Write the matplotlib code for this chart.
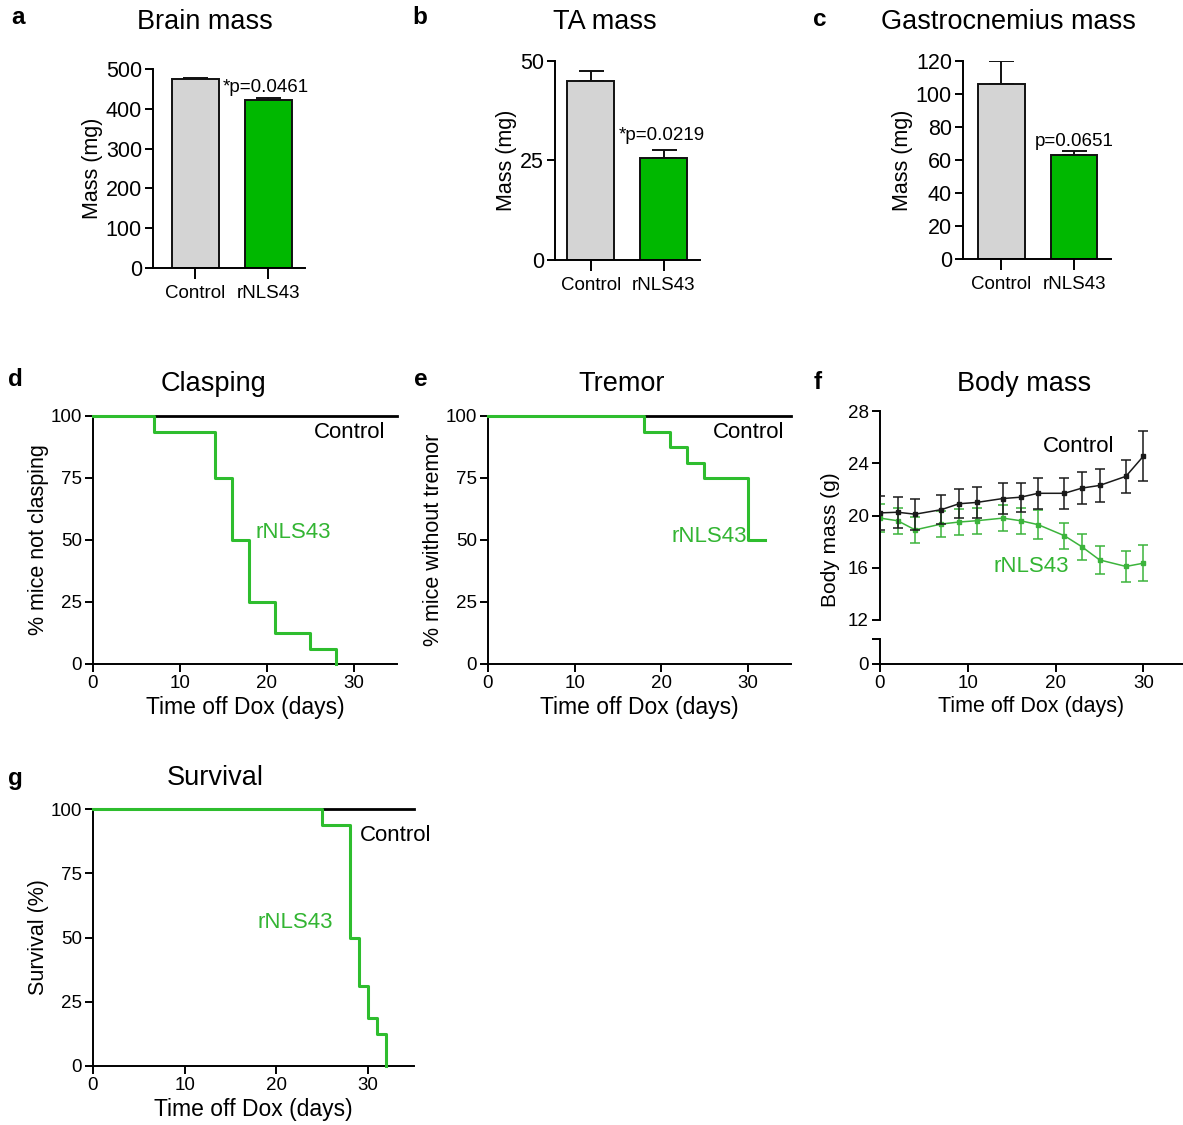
import matplotlib
matplotlib.use('Agg')
from matplotlib import pyplot as plt

plt.rcParams['font.family'] = ['Liberation Sans', 'DejaVu Sans']

W, H = 1183, 1125

GREEN_BAR = '#00b800'
GREEN_LINE = '#2ebd2e'
GREEN_TEXT = '#33b533'
GREY_BAR = '#d4d4d4'

# bar panels
groups = ['Control', 'rNLS43']
brain_mean = [475, 422]
brain_err = [3, 6]
ta_mean = [45.1, 25.6]
ta_err = [2.5, 2.0]
gastro_mean = [106, 63.2]
gastro_err = [13.8, 2.4]

# survival-type curves (days, % remaining)
clasp_days = [0, 7, 14, 16, 18, 21, 25, 28]
clasp_pct = [100, 93.75, 75, 50, 25, 12.5, 6.25, 0]
tremor_days = [0, 18, 21, 23, 25, 30, 32]
tremor_pct = [100, 93.75, 87.5, 81.25, 75, 50, 50]
surv_days = [0, 25, 28, 29, 30, 31, 32]
surv_pct = [100, 93.75, 50, 31.25, 18.75, 12.5, 0]
ctrl_days = [0, 35]
ctrl_pct = [100, 100]

# body mass
bm_days = [0, 2, 4, 7, 9, 11, 14, 16, 18, 21, 23, 25, 28, 30]
bm_ctrl = [20.2, 20.25, 20.1, 20.45, 20.9, 21.0, 21.3, 21.4, 21.7, 21.7, 22.1, 22.3, 23.0, 24.55]
bm_ctrl_err = [1.3, 1.2, 1.2, 1.1, 1.1, 1.2, 1.2, 1.1, 1.2, 1.2, 1.2, 1.25, 1.25, 1.9]
bm_rnls = [19.8, 19.6, 18.9, 19.35, 19.5, 19.6, 19.8, 19.6, 19.3, 18.45, 17.6, 16.6, 16.1, 16.35]
bm_rnls_err = [1.1, 1.0, 1.0, 1.0, 1.0, 1.0, 1.0, 1.0, 1.1, 1.0, 1.0, 1.1, 1.2, 1.4]


def px_axes(fig, x0, y_top, x1, y_bot):
    return fig.add_axes([x0 / W, 1 - y_bot / H, (x1 - x0) / W, (y_bot - y_top) / H])


def style(ax, tick_size=13):
    for s in ['top', 'right']:
        ax.spines[s].set_visible(False)
    for s in ['left', 'bottom']:
        ax.spines[s].set_linewidth(1.4)
    ax.tick_params(width=1.4, length=6, labelsize=tick_size, pad=2)


def fig_text(fig, x, y, s, **kw):
    fig.text(x / W, 1 - y / H, s, ha='center', va='center', **kw)


def bar_panel(fig, box, means, errs, xlim, yticks, ptext, pxy):
    ax = px_axes(fig, *box)
    ax.bar([0, 1], means, width=0.64, color=[GREY_BAR, GREEN_BAR],
           edgecolor='#111111', linewidth=1.4, zorder=2)
    ax.errorbar([0, 1], means, yerr=[[0, 0], errs], fmt='none', ecolor='#111111',
                elinewidth=1.4, capsize=9, capthick=1.4, zorder=1)
    ax.set_xlim(*xlim)
    ax.set_ylim(yticks[0], yticks[-1])
    ax.set_yticks(yticks)
    ax.set_xticks([0, 1])
    ax.set_xticklabels(groups)
    ax.set_ylabel('Mass (mg)', fontsize=15.5, labelpad=2)
    style(ax, 15.5)
    ax.tick_params(axis='x', labelsize=13.5, length=8, pad=4)
    fig_text(fig, pxy[0], pxy[1], ptext, fontsize=13.5)
    return ax


def step_panel(fig, box, days, pct, ylabel, ctrl_xy, rnls_xy, rnls_ha='center'):
    ax = px_axes(fig, *box)
    ax.step(ctrl_days, ctrl_pct, where='post', color='black', linewidth=2, clip_on=False, zorder=2)
    ax.step(days, pct, where='post', color=GREEN_LINE, linewidth=2.2, clip_on=False, zorder=3)
    ax.set_xlim(0, 35)
    ax.set_ylim(0, 100)
    ax.set_yticks([0, 25, 50, 75, 100])
    ax.set_xticks([0, 10, 20, 30])
    style(ax, 13.5)
    ax.set_ylabel(ylabel, fontsize=15.5, labelpad=1)
    ax.set_xlabel('Time off Dox (days)', fontsize=16.5, labelpad=3)
    ax.text(*ctrl_xy, 'Control', fontsize=16, ha='center', va='center')
    ax.text(*rnls_xy, 'rNLS43', fontsize=16, ha=rnls_ha, va='center', color=GREEN_TEXT)
    return ax


fig = plt.figure(figsize=(W / 100, H / 100), dpi=100)

# a, b, c
bar_panel(fig, (153, 69, 305, 268), brain_mean, brain_err, (-0.58, 1.5),
          [0, 100, 200, 300, 400, 500], '*p=0.0461', (266, 87))
bar_panel(fig, (555, 61, 700, 260), ta_mean, ta_err, (-0.49, 1.5),
          [0, 25, 50], '*p=0.0219', (662, 135))
bar_panel(fig, (963, 61, 1111, 259), gastro_mean, gastro_err, (-0.53, 1.51),
          [0, 20, 40, 60, 80, 100, 120], 'p=0.0651', (1074, 141))

# d, e, g
step_panel(fig, (93, 416, 397, 664), clasp_days, clasp_pct, '% mice not clasping',
           (29.6, 93.3), (23.0, 53))
step_panel(fig, (488, 416, 791, 664), tremor_days, tremor_pct, '% mice without tremor',
           (30.1, 93.3), (29.9, 51.5), rnls_ha='right')
step_panel(fig, (93, 809, 414, 1066), surv_days, surv_pct, 'Survival (%)',
           (33.0, 89.5), (22.0, 56))

# f: broken y axis
ax_top = px_axes(fig, 880, 411, 1183, 620)
ax_bot = px_axes(fig, 880, 639, 1183, 664)
for ax in (ax_top, ax_bot):
    ax.set_xlim(0, 34.5)
    style(ax, 13.5)
ax_top.errorbar(bm_days, bm_ctrl, yerr=bm_ctrl_err, color='#1a1a1a', marker='s', markersize=2.5,
                linewidth=1.1, elinewidth=1.1, capsize=3.5, capthick=1.1, zorder=3)
ax_top.errorbar(bm_days, bm_rnls, yerr=bm_rnls_err, color='#3cb43c', marker='s', markersize=2.5,
                linewidth=1.1, elinewidth=1.1, capsize=3.5, capthick=1.1, zorder=2)
ax_top.set_ylim(12, 28)
ax_top.set_yticks([12, 16, 20, 24, 28])
ax_top.spines['bottom'].set_visible(False)
ax_top.tick_params(axis='x', bottom=False, labelbottom=False)
ax_top.text(22.6, 25.3, 'Control', fontsize=16, ha='center', va='center')
ax_top.text(17.2, 16.1, 'rNLS43', fontsize=16, ha='center', va='center', color=GREEN_TEXT)
ax_bot.set_ylim(0, 2)
ax_bot.set_yticks([0, 2])
ax_bot.set_yticklabels(['0', ''])
ax_bot.set_xticks([0, 10, 20, 30])
ax_bot.set_xlabel('Time off Dox (days)', fontsize=15.5, labelpad=3)
fig.text(830 / W, 1 - 540 / H, 'Body mass (g)', fontsize=15, rotation=90, ha='center', va='center')

# titles and panel letters
for x, y, s in [(205, 22, 'Brain mass'), (605, 22, 'TA mass'), (1008, 22, 'Gastrocnemius mass'),
                (213, 384, 'Clasping'), (622, 384, 'Tremor'), (1024, 384, 'Body mass'),
                (215, 778, 'Survival')]:
    fig_text(fig, x, y, s, fontsize=19.5)
for x, y, s in [(18, 18, 'a'), (420, 18, 'b'), (820, 20, 'c'), (15, 380, 'd'),
                (421, 380, 'e'), (818, 382, 'f'), (15, 778, 'g')]:
    fig_text(fig, x, y, s, fontsize=17.5, fontweight='bold')

plt.savefig('out.png', dpi=100)
